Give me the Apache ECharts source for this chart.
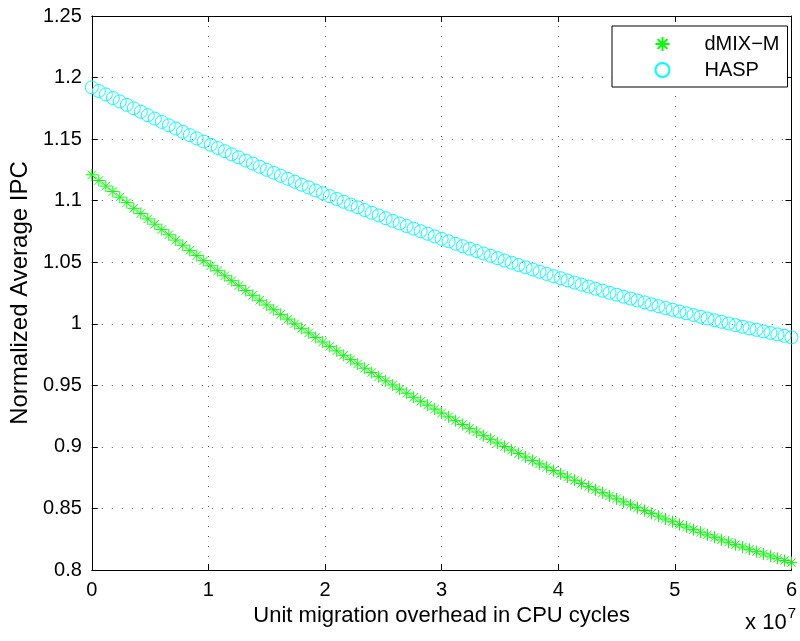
<!DOCTYPE html>
<html>
<head>
<meta charset="utf-8">
<script src="https://cdn.jsdelivr.net/npm/echarts@6/dist/echarts.min.js"></script>
<style>html,body{margin:0;padding:0;background:#fff}#c{width:800px;height:641px}</style>
</head>
<body>
<div id="c"></div>
<script>
// x in units of 1e7 CPU cycles
const xValues = [0,0.06,0.12,0.18,0.24,0.3,0.36,0.42,0.48,0.54,0.6,0.66,0.72,0.78,0.84,0.9,0.96,1.02,1.08,1.14,1.2,1.26,1.32,1.38,1.44,1.5,1.56,1.62,1.68,1.74,1.8,1.86,1.92,1.98,2.04,2.1,2.16,2.22,2.28,2.34,2.4,2.46,2.52,2.58,2.64,2.7,2.76,2.82,2.88,2.94,3,3.06,3.12,3.18,3.24,3.3,3.36,3.42,3.48,3.54,3.6,3.66,3.72,3.78,3.84,3.9,3.96,4.02,4.08,4.14,4.2,4.26,4.32,4.38,4.44,4.5,4.56,4.62,4.68,4.74,4.8,4.86,4.92,4.98,5.04,5.1,5.16,5.22,5.28,5.34,5.4,5.46,5.52,5.58,5.64,5.7,5.76,5.82,5.88,5.94,6];
const dmixValues = [1.1210,1.1164,1.1119,1.1074,1.1029,1.0984,1.0938,1.0896,1.0852,1.0809,1.0765,1.0723,1.0680,1.0638,1.0596,1.0554,1.0513,1.0471,1.0431,1.0390,1.0350,1.0310,1.0270,1.0231,1.0191,1.0153,1.0114,1.0076,1.0038,1.0000,0.9963,0.9926,0.9889,0.9852,0.9816,0.9780,0.9744,0.9709,0.9674,0.9639,0.9604,0.9570,0.9536,0.9503,0.9469,0.9436,0.9403,0.9371,0.9339,0.9307,0.9275,0.9244,0.9213,0.9182,0.9151,0.9121,0.9091,0.9062,0.9032,0.9003,0.8974,0.8946,0.8918,0.8890,0.8862,0.8835,0.8808,0.8781,0.8755,0.8729,0.8703,0.8677,0.8652,0.8627,0.8602,0.8578,0.8553,0.8530,0.8506,0.8483,0.8460,0.8437,0.8414,0.8392,0.8370,0.8349,0.8328,0.8307,0.8286,0.8266,0.8245,0.8226,0.8206,0.8187,0.8168,0.8149,0.8131,0.8113,0.8095,0.8077,0.8060];
const haspValues = [1.1920,1.1891,1.1863,1.1834,1.1806,1.1778,1.1750,1.1722,1.1694,1.1667,1.1640,1.1612,1.1586,1.1559,1.1532,1.1506,1.1480,1.1454,1.1428,1.1402,1.1376,1.1351,1.1326,1.1301,1.1276,1.1251,1.1227,1.1202,1.1178,1.1154,1.1130,1.1107,1.1083,1.1060,1.1037,1.1014,1.0991,1.0968,1.0946,1.0924,1.0902,1.0880,1.0858,1.0836,1.0815,1.0794,1.0773,1.0752,1.0731,1.0710,1.0690,1.0670,1.0650,1.0630,1.0610,1.0591,1.0571,1.0552,1.0533,1.0514,1.0496,1.0477,1.0459,1.0441,1.0423,1.0405,1.0387,1.0370,1.0352,1.0335,1.0318,1.0302,1.0285,1.0269,1.0252,1.0236,1.0220,1.0205,1.0189,1.0174,1.0158,1.0143,1.0128,1.0114,1.0099,1.0085,1.0071,1.0057,1.0043,1.0029,1.0016,1.0002,0.9989,0.9976,0.9963,0.9951,0.9938,0.9926,0.9914,0.9902,0.9890];
const seriesNames = ['dMIX\u2212M', 'HASP'];
const xTicks = [0,1,2,3,4,5,6];
const yTicks = [0.8,0.85,0.9,0.95,1,1.05,1.1,1.15,1.2,1.25];

const FONT = '"Liberation Sans", Arial, sans-serif';
const chart = echarts.init(document.getElementById('c'), null, {renderer: 'canvas'});
const asterisk = 'path://M0,-10L0,10M-10,0L10,0M-7,-7L7,7M-7,7L7,-7';
const grid = {left: 91, right: 6, top: 16, bottom: 71};
const gridLine = {show: true, lineStyle: {color: '#555', width: 1, type: [1, 9]}};
function pairs(ys){ return xValues.map((x,i)=>[x, ys[i]]); }

chart.setOption({
  animation: false,
  backgroundColor: '#fff',
  grid: grid,
  legend: {
    orient: 'vertical', left: 612, top: 26,
    padding: [8, 8, 7, 41], itemGap: 6, itemWidth: 14, itemHeight: 14,
    backgroundColor: '#fff', borderColor: '#000', borderWidth: 1, borderRadius: 0,
    textStyle: {fontFamily: FONT, fontSize: 20, color: '#000', lineHeight: 20, padding: [0, 0, 0, 30]},
    data: seriesNames
  },
  xAxis: [{
    type: 'value', min: 0, max: 6, interval: 1, position: 'bottom',
    axisLine: {show: true, onZero: false, lineStyle: {color: '#000', width: 1}},
    axisTick: {show: true, inside: true, length: 6, lineStyle: {color: '#000'}},
    axisLabel: {fontFamily: FONT, fontSize: 20, color: '#000', margin: 10},
    splitLine: gridLine,
    name: 'Unit migration overhead in CPU cycles', nameLocation: 'middle', nameGap: 34,
    nameTextStyle: {fontFamily: FONT, fontSize: 22, color: '#000', verticalAlign: 'top'}
  }, {
    type: 'value', min: 0, max: 6, interval: 1, position: 'top',
    axisLine: {show: true, onZero: false, lineStyle: {color: '#000', width: 1}},
    axisTick: {show: true, inside: true, length: 6, lineStyle: {color: '#000'}},
    axisLabel: {show: false}, splitLine: {show: false}
  }],
  yAxis: [{
    type: 'value', min: 0.8, max: 1.25, interval: 0.05, position: 'left',
    axisLine: {show: true, onZero: false, lineStyle: {color: '#000', width: 1}},
    axisTick: {show: true, inside: true, length: 6, lineStyle: {color: '#000'}},
    axisLabel: {fontFamily: FONT, fontSize: 20, color: '#000', margin: 10,
      formatter: v => String(parseFloat(v.toFixed(2)))},
    splitLine: gridLine,
    name: 'Normalized Average IPC', nameLocation: 'middle', nameGap: 56, nameRotate: 90,
    nameTextStyle: {fontFamily: FONT, fontSize: 24, color: '#000'}
  }, {
    type: 'value', min: 0.8, max: 1.25, interval: 0.05, position: 'right',
    axisLine: {show: true, onZero: false, lineStyle: {color: '#000', width: 1}},
    axisTick: {show: true, inside: true, length: 6, lineStyle: {color: '#000'}},
    axisLabel: {show: false}, splitLine: {show: false}
  }],
  graphic: [{
    type: 'text', right: 4, top: 606,
    style: {
      text: '{a|x 10}{s|7}',
      rich: {
        a: {fontFamily: FONT, fontSize: 22, color: '#000', verticalAlign: 'bottom', lineHeight: 28},
        s: {fontFamily: FONT, fontSize: 15, color: '#000', verticalAlign: 'top', lineHeight: 28, padding: [0,0,14,1]}
      }
    }
  }],
  series: [{
    name: seriesNames[0], type: 'scatter', data: pairs(dmixValues),
    symbol: asterisk, symbolSize: 12, clip: false,
    itemStyle: {color: 'none', borderColor: '#00ff00', borderWidth: 1, opacity: 1}
  }, {
    name: seriesNames[1], type: 'scatter', data: pairs(haspValues),
    symbol: 'circle', symbolSize: 13, clip: false,
    itemStyle: {color: 'none', borderColor: '#00ffff', borderWidth: 1, opacity: 1}
  }]
});
</script>
</body>
</html>
